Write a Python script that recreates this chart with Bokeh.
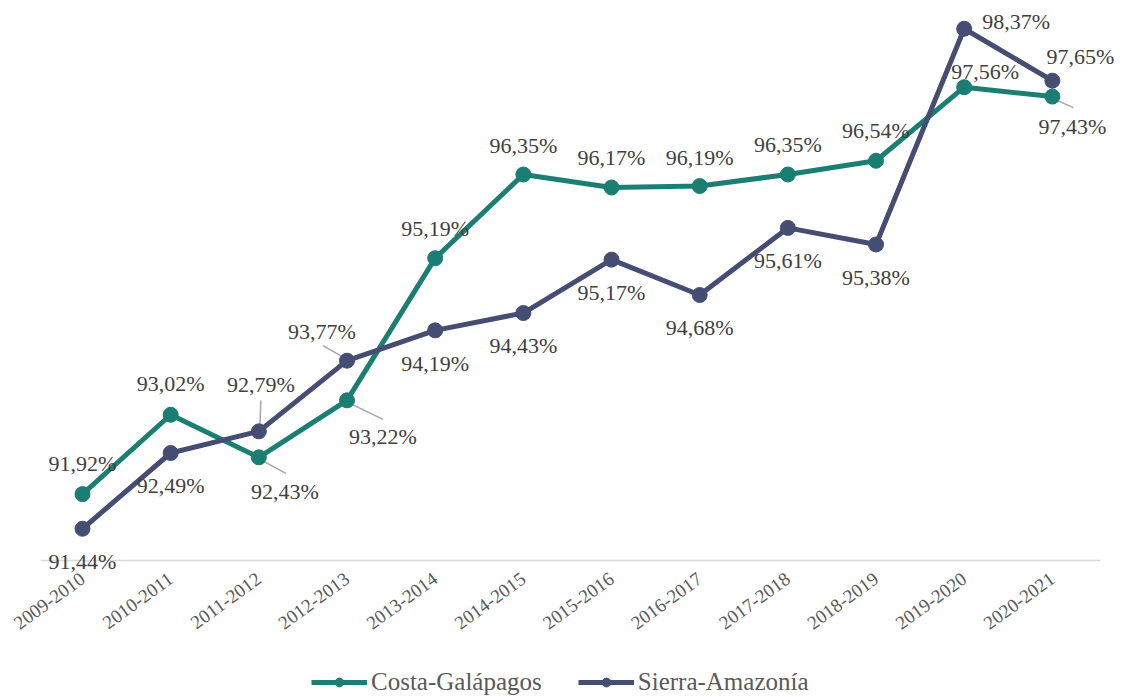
import numpy as np
from bokeh.plotting import figure
from bokeh.models import (ColumnDataSource, LabelSet, Range1d, FixedTicker,
                          Legend, LegendItem)
from bokeh.embed import file_html
from bokeh.resources import INLINE

categories = ["2009-2010", "2010-2011", "2011-2012", "2012-2013", "2013-2014",
              "2014-2015", "2015-2016", "2016-2017", "2017-2018", "2018-2019",
              "2019-2020", "2020-2021"]
costa = [91.92, 93.02, 92.43, 93.22, 95.19, 96.35, 96.17, 96.19, 96.35, 96.54, 97.56, 97.43]
sierra = [91.44, 92.49, 92.79, 93.77, 94.19, 94.43, 95.17, 94.68, 95.61, 95.38, 98.37, 97.65]

# label placement (pixels, relative to the point; +dy = up)
costa_dx = [0, 0, 26, 36, 0, 0, 0, 0, 0, 0, 21, 20]
costa_dy = [31, 31, -34, -36, 30, 29, 30, 29, 30, 30, 16, -30]
sierra_dx = [0, 0, 2, -25, 0, 0, 0, 0, 0, 0, 52, 28]
sierra_dy = [-33, -33, 47, 29, -33, -32, -33, -33, -33, -33, 7, 24]
# leader lines (pixel offsets from the point: start and end)
costa_lead = {2: (3, -3, 27, -16), 3: (3, -3, 36, -19), 11: (3, -3, 21, -11)}
sierra_lead = {2: (1, 3, 2, 31), 3: (-3, 3, -24, 15)}

TEAL = "#1A7F72"
NAVY = "#454D73"
FONT = "Liberation Serif"

W, H = 1124, 697
XPX = 88.17          # px per category
YPX = 72.15          # px per percentage point
X_LEFT_PX = 82 - 0.5 * XPX
AXIS_PX = 560
AXIS_Y = 91.0

X0 = -X_LEFT_PX / XPX
X1 = X0 + W / XPX
Y1 = AXIS_Y + AXIS_PX / YPX
Y0 = AXIS_Y - (H - AXIS_PX) / YPX

xs = [i + 0.5 for i in range(len(categories))]

def lab(v):
    return ("%.2f" % v).replace(".", ",") + "%"

p = figure(frame_width=W, frame_height=H, output_backend="svg",
           toolbar_location=None, x_range=Range1d(X0, X1), y_range=Range1d(Y0, Y1),
           min_border_left=0, min_border_right=0, min_border_top=0,
           min_border_bottom=0)
p.outline_line_color = None
p.xgrid.visible = False
p.ygrid.visible = False
p.yaxis.visible = False
p.background_fill_color = "white"
p.border_fill_color = "white"

ax = p.xaxis[0]
ax.fixed_location = AXIS_Y
ax.ticker = FixedTicker(ticks=xs)
ax.major_label_overrides = {x: c for x, c in zip(xs, categories)}
ax.major_label_orientation = np.radians(36)
ax.major_tick_line_color = None
ax.minor_tick_line_color = None
ax.axis_line_color = None
ax.major_label_text_font = FONT
ax.major_label_text_font_size = "19px"
ax.major_label_text_color = "#595959"
ax.major_label_standoff = 10

# category axis baseline
p.segment(x0=[0.5 - 42 / XPX], y0=[AXIS_Y], x1=[11.5 + 48 / XPX], y1=[AXIS_Y],
          line_color="#D9D9D9", line_width=1.5)

# leader lines
for vals, leads in ((costa, costa_lead), (sierra, sierra_lead)):
    x0s, y0s, x1s, y1s = [], [], [], []
    for i, (a, b, c, d) in leads.items():
        x0s.append(xs[i] + a / XPX)
        y0s.append(vals[i] + b / YPX)
        x1s.append(xs[i] + c / XPX)
        y1s.append(vals[i] + d / YPX)
    p.segment(x0s, y0s, x1s, y1s, line_color="#A6A6A6", line_width=1.5)

items = []
for name, vals, col in (("Costa-Galápagos", costa, TEAL), ("Sierra-Amazonía", sierra, NAVY)):
    src = ColumnDataSource(dict(x=xs, y=vals))
    l = p.line("x", "y", source=src, line_color=col, line_width=5)
    s = p.scatter("x", "y", source=src, size=15, fill_color=col, line_color=col)
    items.append(LegendItem(label=name, renderers=[l, s]))

for vals, dx, dy in ((costa, costa_dx, costa_dy), (sierra, sierra_dx, sierra_dy)):
    src = ColumnDataSource(dict(x=xs, y=vals, t=[lab(v) for v in vals], dx=dx, dy=dy))
    ls = LabelSet(x="x", y="y", text="t", source=src, x_offset="dx", y_offset="dy",
                  text_align="center", text_baseline="middle", text_font=FONT,
                  text_font_size="22px", text_color="#404040")
    p.add_layout(ls)

legend = Legend(items=items, orientation="horizontal", location=(311, 1),
                label_text_font=FONT, label_text_font_size="25px",
                label_text_color="#595959", glyph_width=56, glyph_height=22,
                label_standoff=4, spacing=36, border_line_color=None,
                background_fill_alpha=0, margin=0, padding=1)
p.add_layout(legend)

open("out.html", "w").write(file_html(p, INLINE))
